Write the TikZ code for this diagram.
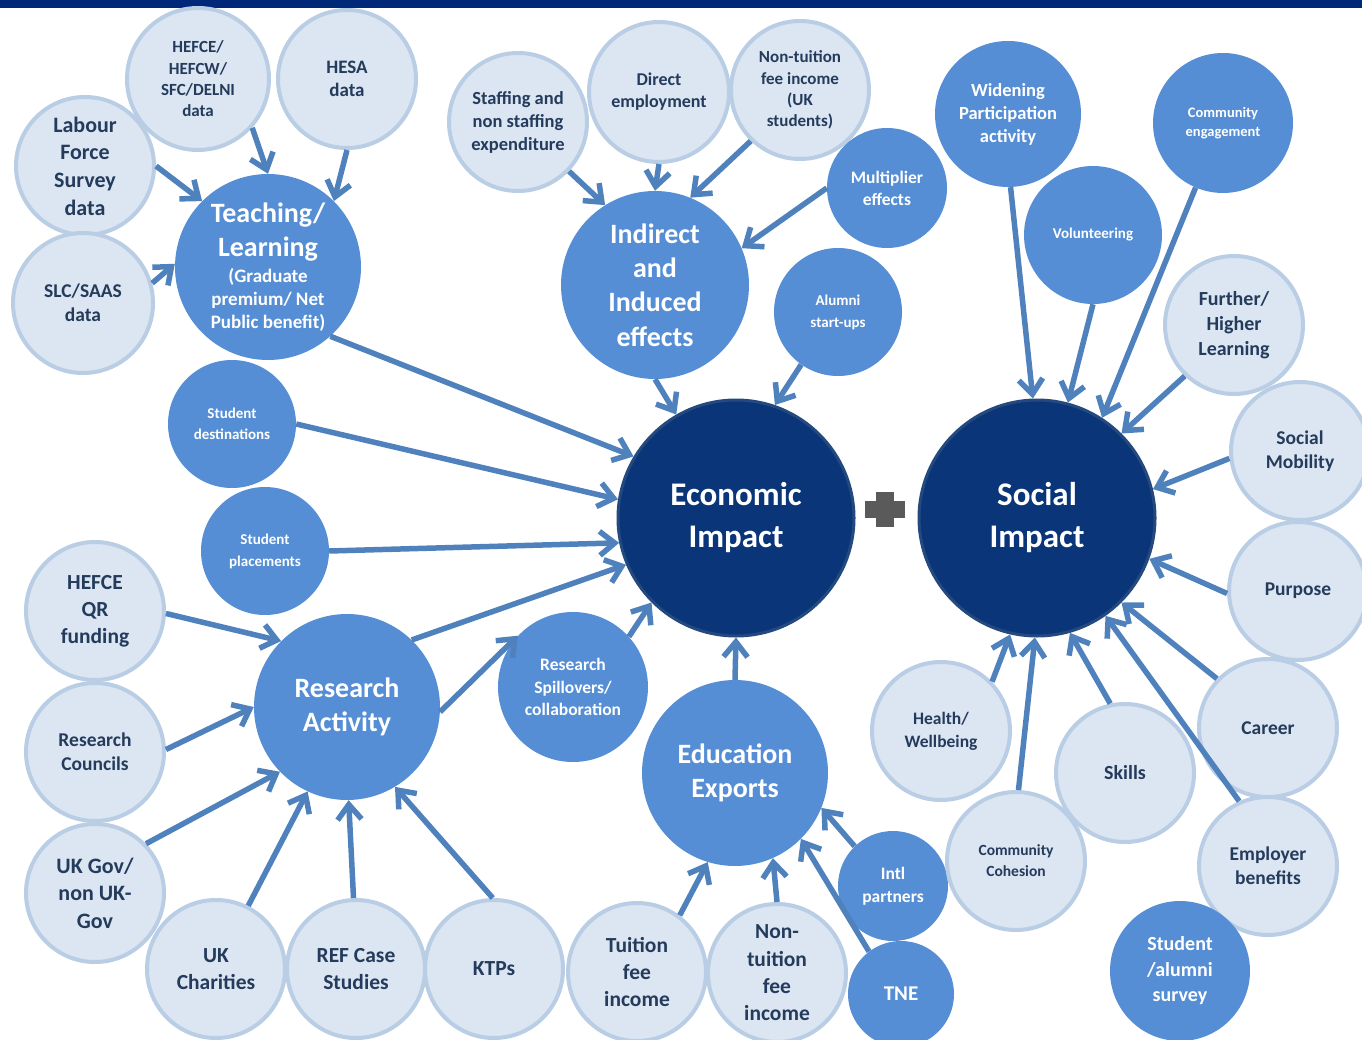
\documentclass[tikz,border=0pt]{standalone}
\usepackage{fontspec}
\setmainfont{Carlito}
\usetikzlibrary{arrows.meta}
\definecolor{barBlue}{HTML}{002878}
\definecolor{srcFill}{HTML}{DCE6F2}
\definecolor{srcEdge}{HTML}{B9CDE5}
\definecolor{srcText}{HTML}{243B5C}
\definecolor{drvFill}{HTML}{558ED5}
\definecolor{impFill}{HTML}{0A3578}
\definecolor{impEdge}{HTML}{23497F}
\definecolor{linkBlue}{HTML}{4F81BD}
\definecolor{plusGrey}{HTML}{5A5A5A}
\newcommand{\fsz}[2]{\fontsize{#1}{#2}\selectfont}
\tikzset{%
  >={Straight Barb[length=15pt,width=24pt]},
  % Specifications for style of nodes:
         base/.style = {circle, inner sep=0pt, align=center},
       source/.style = {base, fill=srcFill, draw=srcEdge, line width=4pt,
                        text=srcText, minimum size=138pt},
       driver/.style = {base, fill=drvFill, text=white},
       impact/.style = {base, fill=impFill, draw=impEdge, line width=3pt,
                        text=white, minimum size=236pt},
          txt/.style 2 args = {font=\bfseries\fsz{#1}{#2}},
         link/.style = {->, draw=linkBlue, line width=5.5pt},
}

\begin{document}
\begin{tikzpicture}[x=1pt, y=-1pt]
\useasboundingbox (0,0) rectangle (1362,1040);
\clip (0,0) rectangle (1362,1040);
\fill[barBlue] (0,0) rectangle (1362,8);

% the two impact circles and the plus between them
\node (econ)   at (736,518)  [impact, txt={33}{42}] {Economic\\Impact};
\node (social) at (1037,518) [impact, txt={33}{42}] {Social\\Impact};
\fill[plusGrey] (876,492) rectangle (894,527);
\fill[plusGrey] (865,501) rectangle (905,518);

% teaching / learning
\node (hefce) at (198,79)  [source, minimum size=142pt, txt={17}{21.3}] {HEFCE/\\HEFCW/\\SFC/DELNI\\data};
\node (hesa)  at (347,79)  [source, txt={19}{23}] {HESA\\data};
\node (lfs)   at (85,166)  [source, txt={22}{27.7}] {Labour\\Force\\Survey\\data};
\node (slc)   at (83,303)  [source, minimum size=140pt, txt={19.5}{24}] {SLC/SAAS\\data};
\node (teach) at (268,267) [driver, minimum size=186pt, txt={19}{23}]
      {{\fsz{28}{34}Teaching/}\\[8pt]{\fsz{28}{34}Learning}\\[3pt](Graduate\\premium/ Net\\Public benefit)};

% indirect and induced effects
\node (staff)    at (518,122) [source, txt={18.5}{23}] {Staffing and\\non staffing\\expenditure};
\node (direct)   at (659,92)  [source, minimum size=140pt, txt={18}{22}] {Direct\\employment};
\node (ntuk)     at (800,90)  [source, txt={17}{21.3}] {Non-tuition\\fee income\\(UK\\students)};
\node (mult)     at (887,188) [driver, minimum size=120pt, txt={17.5}{22}] {Multiplier\\effects};
\node (indirect) at (655,285) [driver, minimum size=188pt, txt={28}{34.3}] {Indirect\\and\\Induced\\effects};
\node (alumni)   at (838,312) [driver, minimum size=128pt, txt={15}{22}] {Alumni\\start-ups};

% students
\node (dest)  at (232,424) [driver, minimum size=128pt, txt={15}{21}] {Student\\destinations};
\node (place) at (265,551) [driver, minimum size=128pt, txt={15}{22}] {Student\\placements};

% research activity
\node (qr)        at (95,611)  [source, txt={21.5}{27}] {HEFCE\\QR\\funding};
\node (rc)        at (95,752)  [source, txt={19.5}{24}] {Research\\Councils};
\node (gov)       at (95,893)  [source, txt={22}{27.5}] {UK Gov/\\non UK-\\Gov};
\node (charities) at (216,969) [source, txt={21.5}{27}] {UK\\Charities};
\node (ref)       at (356,969) [source, txt={21.5}{27}] {REF Case\\Studies};
\node (ktp)       at (494,969) [source, txt={21.5}{27}] {KTPs};
\node (research)  at (347,707) [driver, minimum size=186pt, txt={28}{34}] {Research\\Activity};
\node (spill)     at (573,687) [driver, minimum size=150pt, txt={17.5}{22.5}] {Research\\Spillovers/\\collaboration};

% education exports
\node (edu)     at (735,773) [driver, minimum size=186pt, txt={28}{34}] {Education\\Exports};
\node (tuition) at (637,972) [source, txt={21.5}{27}] {Tuition\\fee\\income};
\node (ntfee)   at (777,973) [source, txt={21.5}{27.3}] {Non-\\tuition\\fee\\income};
\node (intl)    at (893,886) [driver, minimum size=110pt, txt={17.5}{23}] {Intl\\partners};
\node (tne)     at (901,994) [driver, minimum size=106pt, txt={21}{25}] {TNE};

% social impact
\node (wp)       at (1008,114) [driver, minimum size=146pt, txt={18.5}{23}] {Widening\\Participation\\activity};
\node (ceng)     at (1223,123) [driver, minimum size=140pt, txt={14.5}{19}] {Community\\engagement};
\node (vol)      at (1093,235) [driver, minimum size=138pt, txt={15}{19}] {Volunteering};
\node (fhl)      at (1234,325) [source, txt={20}{25}] {Further/\\Higher\\Learning};
\node (smob)     at (1300,451) [source, txt={19.5}{24}] {Social\\Mobility};
\node (purpose)  at (1298,591) [source, txt={19.5}{24}] {Purpose};
\node (career)   at (1268,728) [source, txt={19.5}{24}] {Career};
\node (employer) at (1268,866) [source, txt={19.5}{24}] {Employer\\benefits};
\node (survey)   at (1180,971) [driver, minimum size=140pt, txt={20}{25.5}] {Student\\/alumni\\survey};
\node (skills)   at (1125,773) [source, txt={20}{24}] {Skills};
\node (health)   at (941,731)  [source, txt={17.5}{23}] {Health/\\Wellbeing};
\node (cohesion) at (1016,861) [source, txt={15.5}{21}] {Community\\Cohesion};

% arrows into teaching / learning
\draw[link] (hefce.-42) -- (teach.90);
\draw[link] (hesa.-90)  -- (teach.45);
\draw[link] (lfs.0)     -- (teach.135);
\draw[link] (slc.16)    -- (teach.178);

% arrows into indirect and induced effects
\draw[link] (staff.-44) -- (indirect.122);
\draw[link] (direct.-90) -- (indirect.90);
\draw[link] (ntuk.226)  -- (indirect.68);
\draw[link] (mult.180)  -- (indirect.23);

% arrows into economic impact
\draw[link] (teach.-48)    -- (econ.149);
\draw[link] (dest.0)       -- (econ.171);
\draw[link] (place.0)      -- (econ.192);
\draw[link] (research.46)  -- (econ.203);
\draw[link] (spill.42)     -- (econ.225);
\draw[link] (edu.90)       -- (econ.270);
\draw[link] (indirect.-90) -- (econ.120);
\draw[link] (alumni.235)   -- (econ.71);

% arrows into research activity
\draw[link] (qr.-2)          -- (research.135);
\draw[link] (rc.2)           -- (research.180);
\draw[link] (gov.44)         -- (research.224);
\draw[link] (charities.63)   -- (research.245);
\draw[link] (ref.92)         -- (research.-89);
\draw[link] (ktp.91)         -- (research.-59);
\draw[link] (research.-3)    -- (spill.137);

% arrows into education exports
\draw[link] (tuition.53) -- (edu.-107);
\draw[link] (ntfee.90)   -- (edu.-66);
\draw[link] (intl.134)   -- (edu.-22);
\draw[link] (tne.127)    -- (edu.-45);

% arrows into social impact
\draw[link] (wp.-88)       -- (social.92);
\draw[link] (vol.-90)      -- (social.75);
\draw[link] (ceng.247)     -- (social.57);
\draw[link] (fhl.226)      -- (social.45);
\draw[link] (smob.186)     -- (social.14);
\draw[link] (purpose.182)  -- (social.-20);
\draw[link] (career.136)   -- (social.-45);
\draw[link] (employer.114) -- (social.-55);
\draw[link] (skills.102)   -- (social.-74);
\draw[link] (cohesion.88)  -- (social.-91);
\draw[link] (health.44)    -- (social.-103);
\end{tikzpicture}
\end{document}
